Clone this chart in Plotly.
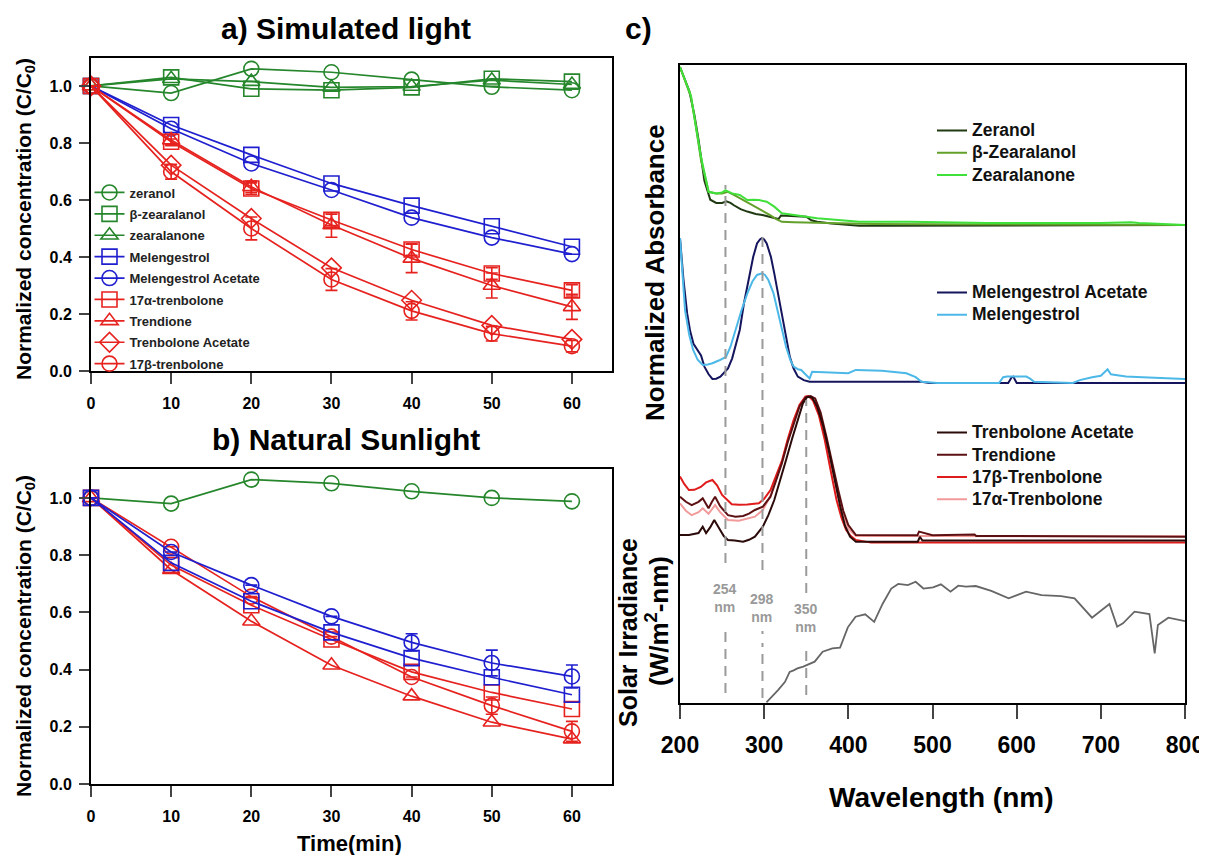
import plotly.graph_objects as go

W, H = 1207, 855
FONT = "Liberation Sans, Arial, sans-serif"
PAGE_OFFSET = 8  # the page body margin shifts the figure by this many pixels


def px(p):
    return (p - PAGE_OFFSET) / W


def py(p):
    return 1 - (p - PAGE_OFFSET) / H


# ---------------- Panel a: simulated light ----------------
time = [0, 10, 20, 30, 40, 50, 60]
a_zeranol = [1.0, 0.975, 1.06, 1.048, 1.022, 0.997, 0.985]
a_b_zearalanol = [1.0, 1.03, 0.99, 0.985, 0.995, 1.025, 1.015]
a_zearalanone = [1.0, 1.025, 1.015, 0.995, 0.998, 1.02, 1.005]
a_melengestrol = [1.0, 0.863, 0.758, 0.658, 0.58, 0.508, 0.436]
a_mel_acetate = [1.0, 0.85, 0.728, 0.635, 0.538, 0.468, 0.41]
a_17a = [1.0, 0.804, 0.64, 0.53, 0.426, 0.342, 0.283]
a_17a_err = [0, 0.01, 0.02, 0.02, 0.02, 0.02, 0.02]
a_trendione = [1.0, 0.81, 0.646, 0.512, 0.395, 0.30, 0.225]
a_trendione_err = [0, 0.02, 0.02, 0.043, 0.05, 0.044, 0.044]
a_tren_acetate = [1.0, 0.722, 0.535, 0.362, 0.248, 0.16, 0.111]
a_17b = [1.0, 0.699, 0.50, 0.321, 0.211, 0.131, 0.087]
a_17b_err = [0, 0.026, 0.04, 0.038, 0.032, 0.026, 0.02]

# ---------------- Panel b: natural sunlight ----------------
b_zeranol = [1.0, 0.98, 1.064, 1.051, 1.023, 1.0, 0.988]
b_mel_acetate = [1.0, 0.811, 0.695, 0.586, 0.495, 0.423, 0.376]
b_mel_acetate_err = [0, 0, 0, 0, 0.03, 0.045, 0.04]
b_melengestrol = [1.0, 0.773, 0.639, 0.53, 0.44, 0.373, 0.312]
b_17b = [1.0, 0.829, 0.655, 0.515, 0.374, 0.274, 0.184]
b_17b_err = [0, 0, 0, 0, 0, 0.03, 0.035]
b_17a = [1.0, 0.765, 0.625, 0.505, 0.392, 0.32, 0.262]
b_trendione = [1.0, 0.749, 0.569, 0.415, 0.307, 0.216, 0.157]

# ---------------- Panel c: normalized absorbance spectra ----------------
wl_zeranol = [200, 205, 211, 217, 222, 229, 236, 243, 250, 255, 260, 264, 272, 280, 290, 298, 308, 317, 320,
              335, 350, 356, 363, 380, 413, 450, 500, 550, 600, 650, 700, 750, 800]
ab_zeranol = [1.0, 0.93, 0.85, 0.70, 0.54, 0.28, 0.16, 0.14, 0.14, 0.15, 0.14, 0.125, 0.10, 0.085, 0.07, 0.063,
              0.05, 0.038, 0.06, 0.058, 0.052, 0.03, 0.02, 0.01, -0.005, -0.005, -0.004, -0.004, -0.003, -0.003,
              -0.002, 0.0, 0.0]
wl_b_zearalanol = [200, 205, 213, 219, 225, 234, 243, 250, 257, 264, 271, 280, 289, 298, 307, 315, 321, 335, 354,
                   400, 430, 500, 600, 700, 800]
ab_b_zearalanol = [1.0, 0.93, 0.81, 0.62, 0.41, 0.21, 0.2, 0.2, 0.21, 0.19, 0.17, 0.145, 0.116, 0.09, 0.063, 0.035,
                   0.02, 0.018, 0.015, 0.01, 0.006, 0.005, 0.003, 0.002, 0.0]
wl_zearalanone = [200, 205, 213, 219, 225, 234, 243, 250, 254, 258, 262, 271, 280, 287, 294, 303, 312, 321, 335,
                  363, 413, 473, 565, 650, 700, 736, 745, 760, 800]
ab_zearalanone = [1.0, 0.93, 0.82, 0.62, 0.43, 0.21, 0.2, 0.205, 0.22, 0.21, 0.2, 0.19, 0.158, 0.16, 0.158, 0.147,
                  0.116, 0.074, 0.063, 0.042, 0.021, 0.021, 0.012, 0.014, 0.012, 0.018, 0.012, 0.01, 0.0]

wl_mel_acetate = [200, 204, 208.5, 212, 216, 220, 225, 229, 234, 238.5, 243, 248, 252, 257, 262, 266, 271, 276,
                  282, 287, 291.5, 295, 297.5, 300, 303, 308, 312, 317, 321.5, 326, 330.5, 335, 340, 347, 354, 400,
                  450, 487, 496, 590, 594, 596, 600, 650, 700, 750, 800]
ab_mel_acetate = [1.0, 0.72, 0.48, 0.36, 0.27, 0.23, 0.19, 0.113, 0.06, 0.028, 0.03, 0.044, 0.07, 0.1, 0.17, 0.26,
                  0.366, 0.55, 0.733, 0.87, 0.963, 0.99, 1.0, 0.99, 0.963, 0.87, 0.756, 0.6, 0.434, 0.3, 0.18, 0.1,
                  0.044, 0.02, 0.009, 0.009, 0.009, 0.009, 0.0, 0.0, 0.04, 0.044, 0.0, 0.0, 0.0, 0.0, 0.0]
wl_melengestrol = [200, 203, 206, 211, 215.5, 221, 227, 233, 238.5, 246, 254.6, 260, 266, 273, 280, 286, 291.5,
                   297.4, 301, 305, 311, 317, 322, 326, 331, 335, 340, 344, 349, 354, 357, 380, 400, 408.8, 440,
                   469, 480, 487, 505.6, 579, 584, 588.5, 611.5, 616, 620.7, 666.7, 675, 689.7, 700, 708, 712,
                   717.5, 730, 749.6, 770, 800]
ab_melengestrol = [1.0, 0.75, 0.5, 0.33, 0.23, 0.16, 0.124, 0.128, 0.136, 0.155, 0.18, 0.25, 0.366, 0.5, 0.618,
                   0.7, 0.745, 0.756, 0.745, 0.71, 0.62, 0.48, 0.35, 0.25, 0.16, 0.113, 0.095, 0.09, 0.06, 0.032,
                   0.078, 0.07, 0.067, 0.09, 0.085, 0.067, 0.04, 0.009, 0.0, 0.0, 0.04, 0.044, 0.044, 0.03, 0.009,
                   0.0, 0.02, 0.04, 0.05, 0.094, 0.06, 0.055, 0.045, 0.04, 0.035, 0.028]

wl_17b = [200, 205, 210.6, 217, 224.7, 231, 238.5, 244, 250, 256, 261.5, 270, 280, 293.7, 300, 307.5, 314, 321.4,
          328, 335, 342, 349, 353, 358, 365, 372, 379, 386, 392, 397.4, 403, 409, 427, 500, 600, 700, 800]
ab_17b = [0.459, 0.41, 0.369, 0.37, 0.39, 0.42, 0.436, 0.4, 0.336, 0.3, 0.273, 0.27, 0.272, 0.28, 0.31, 0.369,
          0.46, 0.57, 0.71, 0.839, 0.94, 0.995, 1.0, 0.97, 0.87, 0.705, 0.5, 0.302, 0.18, 0.1, 0.06, 0.034, 0.016,
          0.016, 0.015, 0.015, 0.016]
wl_tren_acetate = [200, 210.6, 222, 227, 231, 236, 240.7, 244, 247.7, 252, 257, 265, 275, 282, 289, 298.4, 305,
                   312, 319, 326, 333, 340, 346, 351.3, 357, 362.8, 370, 376.6, 383, 390.4, 396, 402, 409, 450,
                   482.5, 485, 488, 551, 600, 700, 800]
ab_tren_acetate = [0.067, 0.067, 0.08, 0.123, 0.08, 0.12, 0.168, 0.14, 0.1, 0.06, 0.034, 0.03, 0.022, 0.035,
                   0.056, 0.123, 0.2, 0.302, 0.43, 0.57, 0.71, 0.839, 0.95, 0.995, 0.99, 0.93, 0.8, 0.638, 0.45,
                   0.257, 0.13, 0.056, 0.022, 0.022, 0.022, 0.055, 0.03, 0.03, 0.03, 0.03, 0.03]
wl_trendione = [200, 207, 213.9, 222, 227, 233.9, 238, 241.7, 247.7, 257, 266, 275, 282, 289, 298.4, 307.5, 314,
                321, 328, 335, 342, 349, 355, 360.6, 367, 374, 381, 388, 394, 400, 409, 430, 482, 484, 500, 550,
                552, 600, 700, 800]
ab_trendione = [0.324, 0.29, 0.268, 0.29, 0.313, 0.246, 0.29, 0.324, 0.26, 0.2, 0.19, 0.195, 0.21, 0.235, 0.257,
                0.324, 0.43, 0.548, 0.69, 0.817, 0.93, 0.99, 1.0, 0.984, 0.89, 0.727, 0.54, 0.369, 0.23, 0.134,
                0.067, 0.065, 0.065, 0.09, 0.065, 0.07, 0.06, 0.06, 0.058, 0.056]
wl_17a = [200, 207, 213.9, 222, 227, 233.9, 238, 241.7, 247.7, 257, 270, 289, 298.4, 307.5, 314, 321, 328, 335,
          342, 349, 355, 360.6, 367, 374, 381, 388, 394, 400, 409, 500, 600, 700, 800]
ab_17a = [0.28, 0.23, 0.2, 0.22, 0.246, 0.21, 0.24, 0.268, 0.22, 0.168, 0.163, 0.19, 0.235, 0.33, 0.44, 0.56,
          0.7, 0.83, 0.94, 0.995, 1.0, 0.975, 0.87, 0.705, 0.52, 0.33, 0.2, 0.11, 0.06, 0.06, 0.058, 0.058, 0.058]

wl_solar = [302.7, 309.6, 316.5, 324.8, 330.3, 335, 339.5, 346.4, 351, 360, 369.5, 381, 390.2, 399.4, 408.6, 420,
            430.7, 440.8, 451, 459.3, 470.8, 480, 489.2, 500.7, 510, 521.4, 530.6, 539.8, 551.4, 569.8, 590.5,
            611.2, 629.6, 652.7, 668.8, 689.5, 710.2, 719.4, 726.3, 740, 757.7, 764, 767.8, 780.2, 800]
solar = [0.009, 0.084, 0.17, 0.28, 0.41, 0.43, 0.457, 0.48, 0.50, 0.545, 0.677, 0.72, 0.73, 0.998, 1.138, 1.17,
         1.07, 1.31, 1.51, 1.57, 1.556, 1.6, 1.51, 1.525, 1.565, 1.468, 1.547, 1.534, 1.543, 1.48, 1.38, 1.468,
         1.424, 1.41, 1.38, 1.125, 1.305, 1.007, 1.05, 1.204, 1.174, 0.655, 1.029, 1.125, 1.081]

marker_wl = [254, 298, 350]
marker_labels = ["254<br>nm", "298<br>nm", "350<br>nm"]

GREEN = "#25862b"
BLUE = "#1f1fd0"
RED = "#e6221f"

fig = go.Figure()


def series(x, y, name, color, symbol, xa, ya, show, err=None):
    kw = {}
    if err is not None:
        kw["error_y"] = dict(type="data", array=err, color=color, thickness=1.6, width=6)
    fig.add_trace(go.Scatter(
        x=x, y=y, name=name, mode="lines+markers",
        line=dict(color=color, width=1.7),
        marker=dict(symbol=symbol, size=15, color=color, line=dict(width=1.6, color=color)),
        xaxis=xa, yaxis=ya, showlegend=show, legendgroup=name, cliponaxis=False, **kw))


# panel a
series(time, a_zeranol, "zeranol", GREEN, "circle-open", "x", "y", True)
series(time, a_b_zearalanol, "β-zearalanol", GREEN, "square-open", "x", "y", True)
series(time, a_zearalanone, "zearalanone", GREEN, "triangle-up-open", "x", "y", True)
series(time, a_melengestrol, "Melengestrol", BLUE, "square-open", "x", "y", True)
series(time, a_mel_acetate, "Melengestrol Acetate", BLUE, "circle-open", "x", "y", True)
series(time, a_17a, "17α-trenbolone", RED, "square-open", "x", "y", True, a_17a_err)
series(time, a_trendione, "Trendione", RED, "triangle-up-open", "x", "y", True, a_trendione_err)
series(time, a_tren_acetate, "Trenbolone Acetate", RED, "diamond-open", "x", "y", True)
series(time, a_17b, "17β-trenbolone", RED, "circle-open", "x", "y", True, a_17b_err)

# panel b
series(time, b_zeranol, "zeranol", GREEN, "circle-open", "x2", "y2", False)
series(time, b_17b, "17β-trenbolone", RED, "circle-open", "x2", "y2", False, b_17b_err)
series(time, b_17a, "17α-trenbolone", RED, "square-open", "x2", "y2", False)
series(time, b_trendione, "Trendione", RED, "triangle-up-open", "x2", "y2", False)
series(time, b_melengestrol, "Melengestrol", BLUE, "square-open", "x2", "y2", False)
series(time, b_mel_acetate, "Melengestrol Acetate", BLUE, "circle-open", "x2", "y2", False, b_mel_acetate_err)

# panel c: solar irradiance sits on the main frame axis (y3)
fig.add_trace(go.Scatter(x=wl_solar, y=solar, mode="lines", line=dict(color="#666666", width=1.8),
                         xaxis="x3", yaxis="y3", showlegend=False))

LEG_TXT = '<span style="font-size:17.5px">{}</span>'


def spec(x, y, name, color, ya, legend):
    fig.add_trace(go.Scatter(x=x, y=y, name=LEG_TXT.format(name), mode="lines", line=dict(color=color, width=2),
                             xaxis="x3", yaxis=ya, legend=legend, showlegend=True))


spec(wl_zeranol, ab_zeranol, "Zeranol", "#1f3a12", "y4", "legend2")
spec(wl_b_zearalanol, ab_b_zearalanol, "β-Zearalanol", "#62a02a", "y4", "legend2")
spec(wl_zearalanone, ab_zearalanone, "Zearalanone", "#3fe03a", "y4", "legend2")
spec(wl_mel_acetate, ab_mel_acetate, "Melengestrol Acetate", "#15155e", "y5", "legend3")
spec(wl_melengestrol, ab_melengestrol, "Melengestrol", "#4cb8e8", "y5", "legend3")
spec(wl_17a, ab_17a, "17α-Trenbolone", "#f29a9a", "y6", "legend4")
spec(wl_17b, ab_17b, "17β-Trenbolone", "#e01b1b", "y6", "legend4")
spec(wl_trendione, ab_trendione, "Trendione", "#5c1012", "y6", "legend4")
spec(wl_tren_acetate, ab_tren_acetate, "Trenbolone Acetate", "#2b0a0a", "y6", "legend4")

tickfont = dict(family=FONT, size=16, color="black", weight="bold")
axline = dict(showline=True, linecolor="black", linewidth=2, mirror=True, showgrid=False, zeroline=False)

# panel c geometry (pixels)
C_TOP, C_BOT = 65, 703
SOLAR_PEAK_PX = 581.7


def band(top_band, bot_band, base_px, peak_px, peak_val=1.0):
    """Domain + range for a stacked band in which 0 sits at base_px and peak_val at peak_px."""
    per = (base_px - peak_px) / peak_val
    lo = (base_px - bot_band) / per
    hi = (base_px - top_band) / per
    return dict(domain=[py(bot_band), py(top_band)], range=[lo, hi], anchor="x3", visible=False,
                showgrid=False, zeroline=False)


leg_c = dict(xanchor="left", yanchor="top", bgcolor="rgba(0,0,0,0)",
             font=dict(family=FONT, size=14.8, color="#111", weight="bold"), tracegroupgap=0)

fig.update_layout(
    width=W, height=H, margin=dict(l=0, r=0, t=0, b=0, autoexpand=False),
    paper_bgcolor="white", plot_bgcolor="rgba(0,0,0,0)",
    font=dict(family=FONT, color="black"),
    xaxis=dict(domain=[px(91), px(612)], anchor="y", range=[0, 65], tickvals=time, ticks="outside",
               ticklen=11, tickwidth=2, tickfont=tickfont, ticklabelstandoff=6, **axline),
    yaxis=dict(domain=[py(371), py(58)], anchor="x", range=[0, 1.098], tickvals=[0, 0.2, 0.4, 0.6, 0.8, 1.0],
               tickformat=".1f", ticks="outside", ticklen=10, tickwidth=2, tickfont=tickfont,
               ticklabelstandoff=4, **axline),
    xaxis2=dict(domain=[px(91), px(612)], anchor="y2", range=[0, 65], tickvals=time, ticks="outside",
                ticklen=11, tickwidth=2, tickfont=tickfont, ticklabelstandoff=6, **axline),
    yaxis2=dict(domain=[py(784), py(469)], anchor="x2", range=[0, 1.101], tickvals=[0, 0.2, 0.4, 0.6, 0.8, 1.0],
                tickformat=".1f", ticks="outside", ticklen=10, tickwidth=2, tickfont=tickfont,
                ticklabelstandoff=4, **axline),
    xaxis3=dict(domain=[px(680), px(1185)], anchor="y3", range=[200, 800],
                tickvals=[200, 300, 400, 500, 600, 700, 800], ticks="outside", ticklen=14, tickwidth=2,
                tickfont=dict(family=FONT, size=23, color="black", weight="bold"), ticklabelstandoff=6,
                **axline),
    yaxis3=dict(domain=[py(C_BOT), py(C_TOP)], anchor="x3",
                range=[0, 1.6 * (C_BOT - C_TOP) / (C_BOT - SOLAR_PEAK_PX)],
                showticklabels=False, ticks="", **axline),
    yaxis4=band(C_TOP, 232, 225, 67),
    yaxis5=band(232, 388, 383, 238),
    yaxis6=band(388, 556, 545, 396),
    legend=dict(x=px(89.5), y=py(177.5), xanchor="left", yanchor="top", bgcolor="rgba(0,0,0,0)",
                font=dict(family=FONT, size=13, color="#222", weight="bold"), tracegroupgap=1.5,
                itemsizing="trace"),
    legend2=dict(x=px(932), y=py(114.3), **leg_c),
    legend3=dict(x=px(932), y=py(276.3), **leg_c),
    legend4=dict(x=px(932), y=py(416.4), traceorder="reversed", **leg_c),
)

# dashed reference lines in panel c
dash_segments = [
    [(185, 563), (628, 693)],
    [(237, 570), (631, 634), (643, 698)],
    [(400, 593), (647, 695)],
]
label_y = [598, 608, 618]
for wl, segs, lab, ly in zip(marker_wl, dash_segments, marker_labels, label_y):
    for (t, b) in segs:
        fig.add_shape(type="line", xref="x3", yref="paper", x0=wl, x1=wl, y0=py(b), y1=py(t),
                      line=dict(color="#9a9a9a", width=2, dash="10px,7px"))
    fig.add_annotation(x=wl, xref="x3", y=py(ly), yref="paper", text=lab, showarrow=False,
                       font=dict(family=FONT, size=14, color="#999999", weight="bold"),
                       xanchor="center", yanchor="middle", align="center")

ann_font = dict(family=FONT, color="black", weight="bold")
anns = [
    dict(x=px(346), y=py(29), text="a) Simulated light", size=30),
    dict(x=px(346), y=py(439), text="b) Natural Sunlight", size=30),
    dict(x=px(638), y=py(29), text="c)", size=30),
    dict(x=px(349), y=py(843), text="Time(min)", size=22),
    dict(x=px(941), y=py(797), text="Wavelength (nm)", size=28),
]
for a in anns:
    fig.add_annotation(x=a["x"], y=a["y"], xref="paper", yref="paper", text=a["text"], showarrow=False,
                       xanchor="center", yanchor="middle", font=dict(size=a["size"], **ann_font))

rot = [
    dict(x=px(25), y=py(219), text="Normalized concentration (C/C<sub>0</sub>)", size=21),
    dict(x=px(25), y=py(636), text="Normalized concentration (C/C<sub>0</sub>)", size=21),
    dict(x=px(655), y=py(272), text="Normalized Absorbance", size=26),
    dict(x=px(628), y=py(633), text="Solar Irradiance", size=25),
    dict(x=px(657), y=py(621), text="(W/m<sup>2</sup>-nm)", size=26),
]
for a in rot:
    fig.add_annotation(x=a["x"], y=a["y"], xref="paper", yref="paper", text=a["text"], showarrow=False,
                       textangle=-90, xanchor="center", yanchor="middle", font=dict(size=a["size"], **ann_font))

fig.write_html("out.html")
